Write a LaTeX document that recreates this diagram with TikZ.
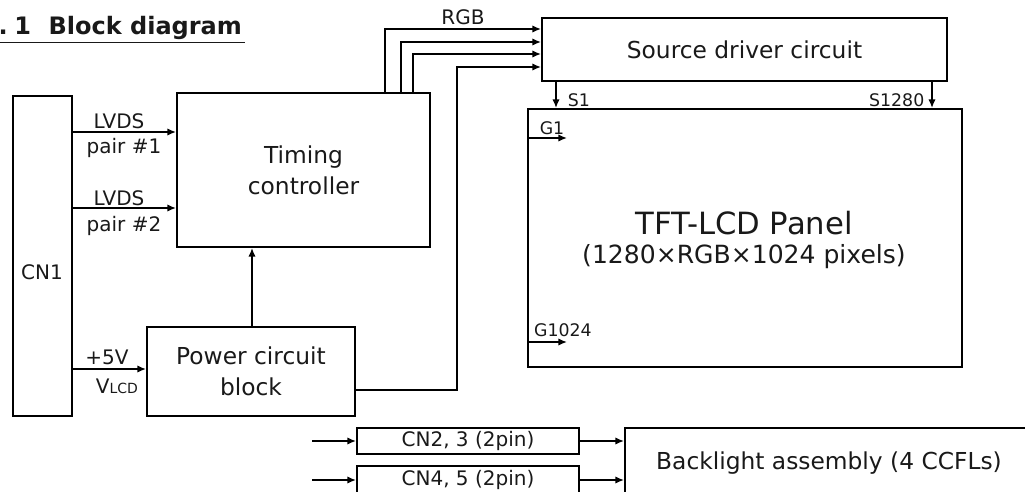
\documentclass[tikz,border=0pt]{standalone}
\usepackage{fontspec}
\setmainfont{DejaVu Sans}
\usetikzlibrary{positioning, arrows.meta}

\newcommand{\px}{0.75pt}
\tikzset{
  blk/.style={rectangle, draw, line width=1.4pt, align=center, inner sep=0pt},
  sig/.style={line width=1.4pt, -{Latex[length=6.5pt,width=5.5pt]}},
  big/.style={font=\fontsize{17.5}{23}\selectfont},
  lbl/.style={font=\fontsize{15}{18}\selectfont},
  tiny/.style={font=\fontsize{13}{15}\selectfont},
}

\begin{document}
\begin{tikzpicture}[x=\px, y=-\px, text=black!90]
\useasboundingbox (0,0) rectangle (1025,492);
\clip (0,0) rectangle (1025,492);

\node[anchor=base west, font=\bfseries\fontsize{18}{21}\selectfont] (title) at (-6,35) {\underline{.\hspace{5pt}1\hspace{13pt}Block diagram\hspace{2pt}}};

% boxes
\node[blk, minimum width=59*\px, minimum height=320*\px] (cn1) at (42.5,256) {};
\node[lbl] (cn1txt) at (42,272) {CN1};
\node[blk, big, minimum width=253*\px, minimum height=154*\px] (timing) at (303.5,170) {Timing\\controller};
\node[blk, big, minimum width=208*\px, minimum height=89*\px] (power) at (251,371.5) {Power circuit\\block};
\node[blk, big, minimum width=405*\px, minimum height=63*\px] (source) at (744.5,49.5) {Source driver circuit};
\node[blk, minimum width=434*\px, minimum height=258*\px] (panel) at (745,238) {};
\node[font=\fontsize{23}{27}\selectfont] (ptitle) at (744,223) {TFT-LCD Panel};
\node[font=\fontsize{18.8}{22}\selectfont] (psub) at (744,257) {(1280×RGB×1024 pixels)};
\node[blk, lbl, minimum width=222*\px, minimum height=26*\px] (cn23) at (468,441) {CN2, 3 (2pin)};
\node[blk, lbl, minimum width=222*\px, minimum height=28*\px] (cn45) at (468,480) {CN4, 5 (2pin)};
\node[blk, big, minimum width=408*\px, minimum height=70*\px] (bl) at (829,463) {Backlight assembly (4 CCFLs)};

% LVDS and power input
\draw[sig] (cn1.east |- 0,132) -- (timing.west |- 0,132);
\draw[sig] (cn1.east |- 0,208) -- (timing.west |- 0,208);
\draw[sig] (cn1.east |- 0,369) -- (power.west |- 0,369);
\node[lbl] (lv1) at (119,121) {LVDS};
\node[lbl] (pr1) at (124,148) {pair \#1};
\node[lbl] (lv2) at (119,198) {LVDS};
\node[lbl] (pr2) at (124,226) {pair \#2};
\node[lbl] (v5) at (107,357) {+5V};
\node[lbl] (vlcd) at (117,386) {V{\fontsize{10.5}{12}\selectfont LCD}};

\draw[sig] (power.north -| 252,0) -- (timing.south -| 252,0);

% RGB bus
\foreach \x/\y in {385/29, 401/42, 413/54}
  \draw[sig] (timing.north -| \x,0) |- (source.west |- 0,\y);
\coordinate (bend) at (457,67);
\draw[sig] (power.east |- 0,390) -| (bend) -- (source.west |- bend);
\node[lbl] (rgb) at (463,17) {RGB};

% source and gate lines
\draw[sig] (source.south -| 556,0) -- (panel.north -| 556,0);
\draw[sig] (source.south -| 932,0) -- (panel.north -| 932,0);
\node[tiny] (s1) at (579,100) {S1};
\node[tiny, anchor=east] (s1280) at (929,100) {S1280};
\draw[sig] (panel.west |- 0,138) -- ++(40,0);
\draw[sig] (panel.west |- 0,342) -- ++(40,0);
\node[tiny] (g1) at (552,128) {G1};
\node[tiny] (g1024) at (563,330) {G1024};

% backlight
\coordinate (in23) at (312,441);
\coordinate (in45) at (312,480);
\draw[sig] (in23) -- (cn23.west);
\draw[sig] (in45) -- (cn45.west);
\draw[sig] (cn23.east) -- (cn23.east -| bl.west);
\draw[sig] (cn45.east) -- (cn45.east -| bl.west);

\end{tikzpicture}
\end{document}
